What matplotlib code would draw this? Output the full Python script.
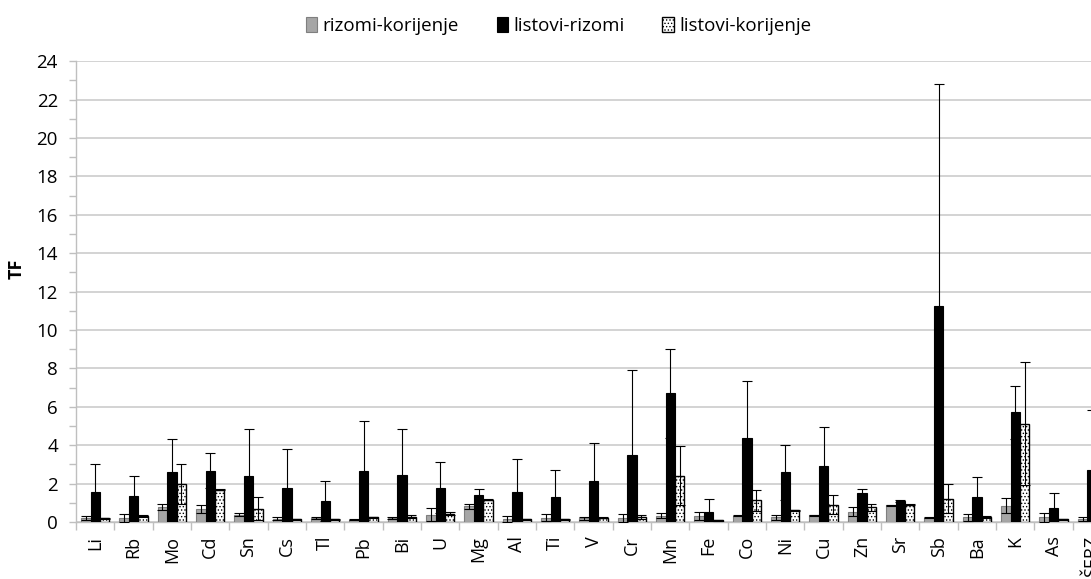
import numpy as np
import matplotlib.pyplot as plt

plt.rcParams['font.family'] = ['Open Sans', 'DejaVu Sans']
plt.rcParams['hatch.linewidth'] = 0.6

elements = ['Li', 'Rb', 'Mo', 'Cd', 'Sn', 'Cs', 'Tl', 'Pb', 'Bi', 'U', 'Mg', 'Al', 'Ti', 'V',
            'Cr', 'Mn', 'Fe', 'Co', 'Ni', 'Cu', 'Zn', 'Sr', 'Sb', 'Ba', 'K', 'As', 'ŠERZ']

# rizomi-korijenje
rk = [0.21, 0.21, 0.77, 0.68, 0.38, 0.17, 0.21, 0.12, 0.21, 0.38, 0.82, 0.17, 0.23, 0.19,
      0.21, 0.33, 0.30, 0.33, 0.24, 0.35, 0.54, 0.87, 0.23, 0.24, 0.85, 0.24, 0.14]
rk_err = [0.12, 0.21, 0.15, 0.19, 0.07, 0.09, 0.05, 0.02, 0.05, 0.33, 0.12, 0.16, 0.19, 0.09,
          0.21, 0.12, 0.22, 0.03, 0.11, 0.02, 0.23, 0.02, 0.03, 0.18, 0.40, 0.23, 0.10]

# listovi-rizomi
lr = [1.57, 1.36, 2.59, 2.68, 2.38, 1.79, 1.10, 2.68, 2.47, 1.79, 1.39, 1.58, 1.29, 2.12,
      3.50, 6.71, 0.54, 4.35, 2.59, 2.94, 1.53, 1.08, 11.27, 1.32, 5.72, 0.71, 2.70]
lr_err = [1.46, 1.02, 1.74, 0.89, 2.44, 2.02, 1.06, 2.57, 2.35, 1.32, 0.31, 1.71, 1.41, 1.97,
          4.40, 2.32, 0.66, 2.99, 1.44, 2.00, 0.21, 0.05, 11.53, 1.03, 1.38, 0.80, 3.14]

# listovi-korijenje
lk = [0.19, 0.31, 1.98, 1.69, 0.70, 0.14, 0.14, 0.24, 0.28, 0.43, 1.17, 0.14, 0.14, 0.23,
      0.26, 2.42, 0.09, 1.13, 0.61, 0.90, 0.78, 0.90, 1.22, 0.26, 5.11, 0.14, 0.10]
lk_err = [0.02, 0.03, 1.05, 0.02, 0.59, 0.02, 0.02, 0.03, 0.09, 0.09, 0.03, 0.02, 0.02, 0.03,
          0.09, 1.55, 0.02, 0.54, 0.03, 0.49, 0.18, 0.03, 0.75, 0.03, 3.20, 0.02, 0.02]

x = np.arange(len(elements))
w = 0.245

fig = plt.figure(figsize=(10.91, 5.79), dpi=100)
ax = fig.add_axes([0.0697, 0.0984, 0.9487, 0.796])

ekw = dict(elinewidth=0.8, capsize=3.5, capthick=0.8, ecolor='black')
ax.bar(x - w, rk, w, yerr=rk_err, color='#a6a6a6', edgecolor='#7f7f7f', linewidth=0.8,
       error_kw=ekw, label='rizomi-korijenje', zorder=3)
ax.bar(x, lr, w, yerr=lr_err, color='black', edgecolor='black', linewidth=0.8,
       error_kw=ekw, label='listovi-rizomi', zorder=3)
ax.bar(x + w, lk, w, yerr=lk_err, color='white', edgecolor='black', linewidth=1.0,
       hatch='.....', error_kw=ekw, label='listovi-korijenje', zorder=3)

ax.set_xlim(-0.5, len(elements) - 0.5)
ax.set_ylim(0, 24)
ax.set_yticks(np.arange(0, 25, 2))
ax.set_yticks(np.arange(1, 24, 2), minor=True)
ax.grid(axis='y', which='major', color='#d0d0d0', linewidth=1.3, zorder=0)

ax.set_xticks(x)
ax.set_xticklabels(elements, rotation=90, fontsize=13)
ax.set_xticks(np.arange(-0.5, len(elements), 1), minor=True)
ax.tick_params(axis='x', which='major', length=0, pad=10)
ax.tick_params(axis='x', which='minor', length=6, color='#bfbfbf', width=1)
ax.tick_params(axis='y', which='both', length=5, color='#bfbfbf', width=1, labelsize=13.5, pad=8)

for s in ['top', 'right']:
    ax.spines[s].set_visible(False)
for s in ['left', 'bottom']:
    ax.spines[s].set_color('#bfbfbf')
    ax.spines[s].set_linewidth(1)

ax.set_ylabel('TF', fontsize=13, fontweight='bold')
ax.yaxis.set_label_coords(-0.049, 0.55)

fig.legend(loc='upper center', bbox_to_anchor=(0.512, 1.0), ncol=3, frameon=False,
           fontsize=13.5, handlelength=0.6, handleheight=0.8, handletextpad=0.3,
           columnspacing=2.0)

fig.savefig('out.png', dpi=100)
